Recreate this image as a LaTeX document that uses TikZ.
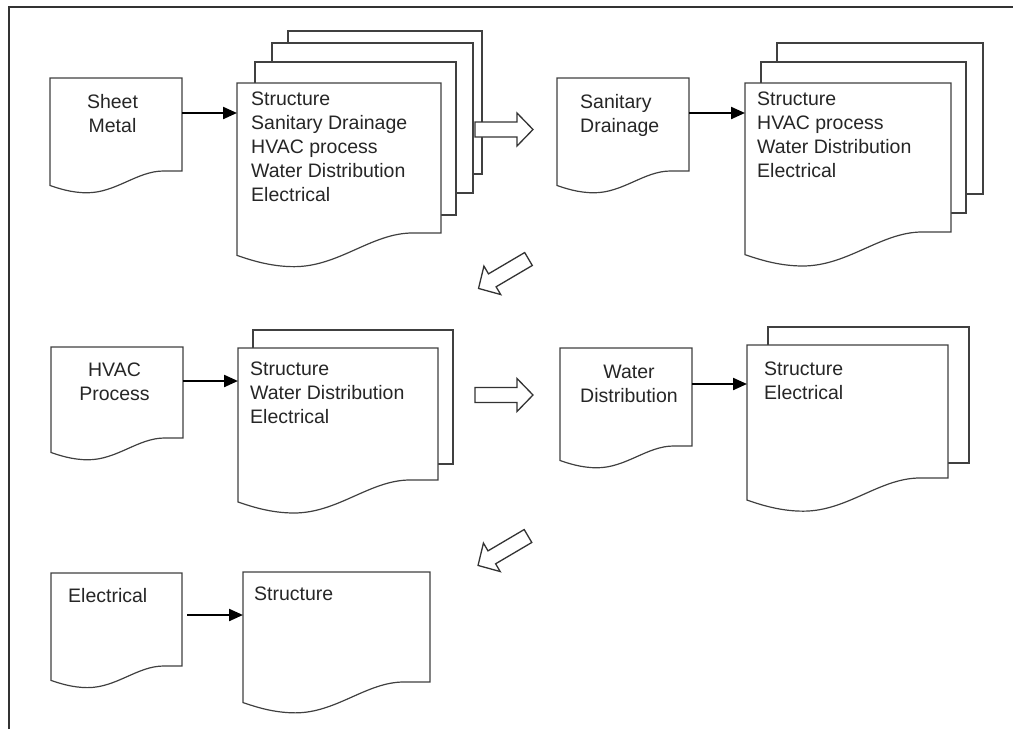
\documentclass[tikz,border=0pt]{standalone}
\usepackage{fontspec}
\setmainfont{Liberation Sans}
\usetikzlibrary{calc,arrows.meta}

% Document symbol: flat top, wavy bottom, drawn over a named frame node
\newcommand{\docoutline}[1]{%
  \path[docline] let \p1=(#1.north west), \p2=(#1.south east), \n1={\x2-\x1} in
    (\x1,\y1) -- (\x2,\y1) -- (\x2,\y2) -- (\x2-0.14*\n1,\y2)
    .. controls (\x2-0.34*\n1,\y2) and (\x1+0.5*\n1,\y2-0.165*\n1) .. (\x1+0.28*\n1,\y2-0.165*\n1)
    .. controls (\x1+0.16*\n1,\y2-0.165*\n1) and (\x1+0.06*\n1,\y2-0.13*\n1) .. (\x1,\y2-0.11*\n1)
    -- cycle;}

\begin{document}
\begin{tikzpicture}[x=1pt,y=-1pt,
  frame/.style={inner sep=0pt, outer sep=0pt, anchor=north west},
  page/.style={draw=black!75, line width=1.2pt, fill=white, inner sep=0pt, outer sep=0pt, anchor=north west},
  docline/.style={draw=black!75, line width=1.2pt, fill=white, line join=miter},
  doctext/.style={font=\fontsize{19.5}{23.8}\selectfont, text=black!85, inner sep=0pt, anchor=north west, align=left},
  centertext/.style={doctext, anchor=north, align=center},
  conn/.style={line width=2.2pt, -{Triangle[length=14pt,width=12pt]}},
  blockarrow/.style={draw=black!80, line width=1.3pt, fill=white, line join=miter},
  borderline/.style={draw=black!80, line width=2pt},
  blockarr/.pic={\path[blockarrow] (0,-7.5) -- (42,-7.5) -- (42,-16.5) -- (58,0)
                   -- (42,16.5) -- (42,7.5) -- (0,7.5) -- cycle;}]

\useasboundingbox (0,0) rectangle (1013,729);

% outer frame (left and top edges)
\draw[borderline] (9,729) -- (9,7) -- (1013,7);

% ---------- back pages of the stacks ----------
\node[page, minimum width=194pt, minimum height=143pt] (s1d) at (288,31) {};
\node[page, minimum width=201pt, minimum height=150pt] (s1c) at (272,43) {};
\node[page, minimum width=201pt, minimum height=153pt] (s1b) at (255,62) {};

\node[page, minimum width=206pt, minimum height=151pt] (s2c) at (777,43) {};
\node[page, minimum width=205pt, minimum height=151pt] (s2b) at (761,62) {};

\node[page, minimum width=200pt, minimum height=134pt] (s3b) at (253,330) {};
\node[page, minimum width=201pt, minimum height=136pt] (s4b) at (768,327) {};

% ---------- frames of the document symbols ----------
\node[frame, minimum width=132pt, minimum height=93pt]  (sm)  at (50,78) {};
\node[frame, minimum width=204pt, minimum height=150pt] (s1a) at (237,83) {};
\node[frame, minimum width=132pt, minimum height=93pt]  (sd)  at (557,78) {};
\node[frame, minimum width=206pt, minimum height=149pt] (s2a) at (745,83) {};
\node[frame, minimum width=132pt, minimum height=91pt]  (hv)  at (51,347) {};
\node[frame, minimum width=200pt, minimum height=132pt] (s3a) at (238,348) {};
\node[frame, minimum width=132pt, minimum height=98pt]  (wd)  at (560,348) {};
\node[frame, minimum width=201pt, minimum height=133pt] (s4a) at (747,345) {};
\node[frame, minimum width=131pt, minimum height=93pt]  (el)  at (51,573) {};
\node[frame, minimum width=187pt, minimum height=110pt] (st)  at (243,572) {};

\foreach \d in {sm,s1a,sd,s2a,hv,s3a,wd,s4a,el,st} {\docoutline{\d}}

% ---------- texts ----------
\node[centertext] (smt) at (112.5,94) {Sheet\\Metal};
\node[doctext] (s1t) at (251,92) {Structure\\Sanitary Drainage\\HVAC process\\Water Distribution\\Electrical};
\node[doctext] (sdt) at (580,94) {Sanitary\\Drainage};
\node[doctext] (s2t) at (757,92) {Structure\\HVAC process\\Water Distribution\\Electrical};
\node[centertext] (hvt) at (114.5,363) {HVAC\\Process};
\node[doctext] (s3t) at (250,362) {Structure\\Water Distribution\\Electrical};
\node[centertext] (wdt) at (629,365) {Water\\Distribution};
\node[doctext] (s4t) at (764,362) {Structure\\Electrical};
\node[doctext] (elt) at (68,588) {Electrical};
\node[doctext] (stt) at (254,587) {Structure};

% ---------- connectors ----------
\draw[conn] ([yshift=-35pt]sm.north east) coordinate (c1) -- (s1a.west |- c1);
\draw[conn] ([yshift=-35pt]sd.north east) coordinate (c2) -- (s2a.west |- c2);
\draw[conn] ([yshift=-34pt]hv.north east) coordinate (c3) -- (s3a.west |- c3);
\draw[conn] ([yshift=-36pt]wd.north east) coordinate (c4) -- (s4a.west |- c4);
\draw[conn, shorten <=5pt] ([yshift=-42pt]el.north east) coordinate (c5) -- (st.west |- c5);

% ---------- hollow flow arrows between rows ----------
\pic at (475,129.5) {blockarr};
\pic[rotate=210.5] at (528.5,259) {blockarr};
\pic at (475,395) {blockarr};
\pic[rotate=210.5] at (528,536) {blockarr};

\end{tikzpicture}
\end{document}
